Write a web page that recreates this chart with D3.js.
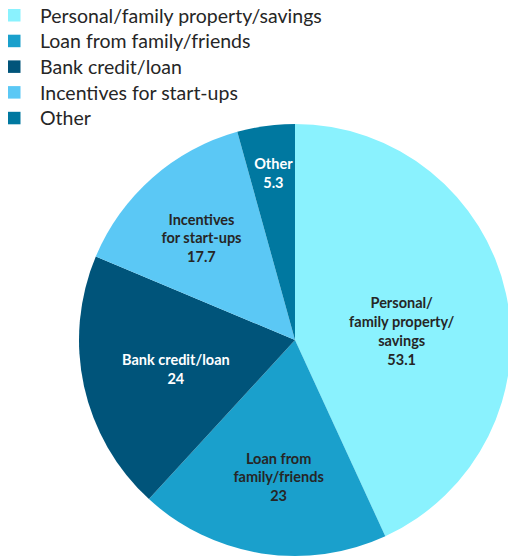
<!DOCTYPE html>
<html>
<head>
<meta charset="utf-8">
<script src="https://cdn.jsdelivr.net/npm/d3@7"></script>
<style>
  html, body { margin: 0; padding: 0; background: #fff; }
  svg { display: block; }
</style>
</head>
<body>
<svg id="chart" width="508" height="558"></svg>
<script>
// Sources of start-up funding (multiple answers possible)
const categories = [
  "Personal/family property/savings",
  "Loan from family/friends",
  "Bank credit/loan",
  "Incentives for start-ups",
  "Other"
];
const values = [53.1, 23, 24, 17.7, 5.3];
const valueLabels = ["53.1", "23", "24", "17.7", "5.3"];
// In-slice label lines
const sliceLines = [
  ["Personal/", "family property/", "savings"],
  ["Loan from", "family/friends"],
  ["Bank credit/loan"],
  ["Incentives", "for start-ups"],
  ["Other"]
];
const colors = ["#8af2fe", "#1aa0cc", "#00547a", "#5bc8f5", "#0078a0"];
const labelInk = ["#262626", "#262626", "#ffffff", "#262626", "#ffffff"];

const svg = d3.select("#chart");
const cx = 295, cy = 340, R = 216;
const font = "Lato, 'Open Sans', sans-serif";

const data = categories.map((c, i) => ({ name: c, value: values[i], i }));

const pie = d3.pie().sort(null).value(d => d.value);
const arcs = pie(data);
const arc = d3.arc().innerRadius(0).outerRadius(R);

const g = svg.append("g").attr("transform", `translate(${cx},${cy})`);

g.selectAll("path.slice")
  .data(arcs)
  .join("path")
  .attr("class", "slice")
  .attr("d", arc)
  .attr("fill", d => colors[d.data.i]);

// label placement: distance from centre along the slice bisector, plus a small nudge
const labelRadius = [100, 138, 122, 140, 168];
const labelNudge = [[9, 13], [5, 1], [0, 3.3], [-1, 3.5], [1, 0]];
const lineH = 18.8;

const labels = g.selectAll("g.lab")
  .data(arcs)
  .join("g")
  .attr("class", "lab")
  .attr("transform", d => {
    const a = (d.startAngle + d.endAngle) / 2;
    const r = labelRadius[d.data.i];
    const [nx, ny] = labelNudge[d.data.i];
    return `translate(${Math.sin(a) * r + nx},${-Math.cos(a) * r + ny})`;
  });

labels.each(function (d) {
  const lines = sliceLines[d.data.i].concat([valueLabels[d.data.i]]);
  const n = lines.length;
  const t = d3.select(this).append("text")
    .attr("text-anchor", "middle")
    .attr("font-family", font)
    .attr("font-weight", 700)
    .attr("font-size", 14.5)
    .attr("fill", labelInk[d.data.i]);
  lines.forEach((s, k) => {
    t.append("tspan")
      .attr("x", 0)
      .attr("y", (k - (n - 1) / 2) * lineH + 5)
      .text(s);
  });
});

// legend
const legend = svg.append("g").attr("transform", "translate(8,9)");
const rowH = 25.7;
const items = legend.selectAll("g.item")
  .data(categories)
  .join("g")
  .attr("class", "item")
  .attr("transform", (d, i) => `translate(0,${i * rowH})`);

items.append("rect")
  .attr("width", 12.5).attr("height", 12.5)
  .attr("fill", (d, i) => colors[i]);

items.append("text")
  .attr("x", 32).attr("y", 13.5)
  .attr("font-family", font)
  .attr("font-size", 19.5)
  .attr("fill", "#262626")
  .text(d => d);
</script>
</body>
</html>
